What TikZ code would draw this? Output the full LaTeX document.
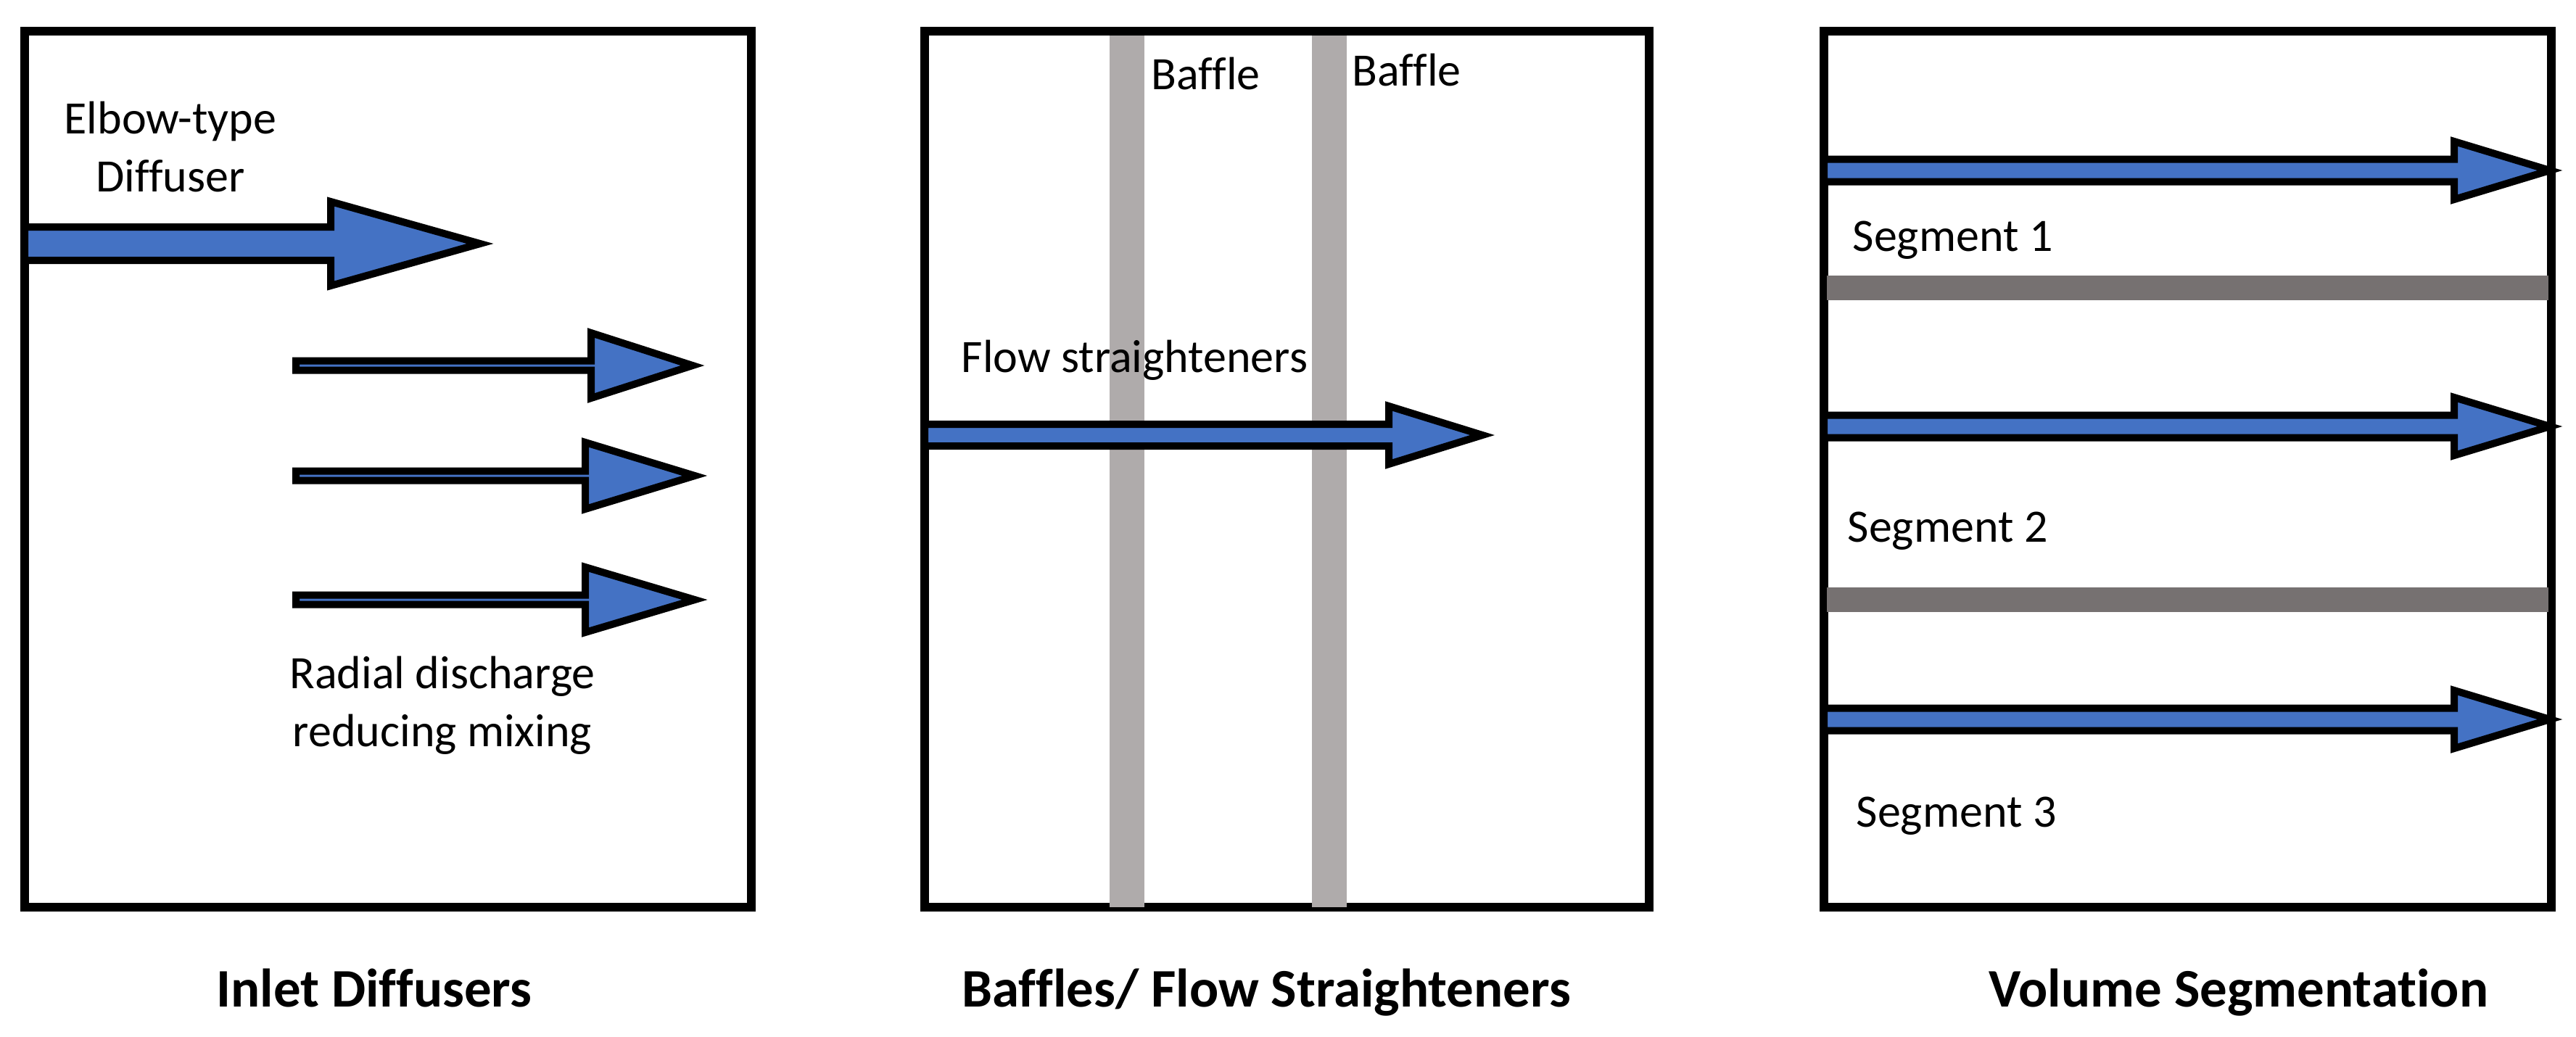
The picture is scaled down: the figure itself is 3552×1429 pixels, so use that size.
\documentclass[tikz,border=0pt]{standalone}
\usepackage{fontspec}
\setmainfont[Ligatures=NoCommon]{Carlito}
\definecolor{flowblue}{HTML}{4472C4}
\definecolor{bafflegray}{HTML}{AFABAB}
\definecolor{bargray}{HTML}{767171}
% x0, yc, head base, tip, shaft half height, head half height
\newcommand\FlowArrow[6]{%
  \draw[flowarrow] (#1,#2-#5) -- (#3,#2-#5) -- (#3,#2-#6) -- (#4,#2)
    -- (#3,#2+#6) -- (#3,#2+#5) -- (#1,#2+#5) -- cycle;}
\begin{document}
\begin{tikzpicture}[x=0.01cm,y=-0.01cm,
  boxframe/.style={draw=black,line width=0.12cm},
  flowarrow/.style={draw=black,fill=flowblue,line width=0.1cm},
  baffle/.style={fill=bafflegray},
  divider/.style={fill=bargray},
  lbl/.style={inner sep=0pt,font=\fontsize{18.2}{22.5}\selectfont},
  title/.style={inner sep=0pt,font=\bfseries\fontsize{21.3}{25}\selectfont}]
\fill[white] (0,0) rectangle (3552,1429);
\useasboundingbox (0,0) rectangle (3552,1429);

% frames
\draw[boxframe] (34,43) rectangle (1036,1251);
\draw[boxframe] (1275,43) rectangle (2274,1251);
\draw[boxframe] (2515,43) rectangle (3518,1251);

% baffles
\fill[baffle] (1530,49) rectangle (1578,1251);
\fill[baffle] (1809,49) rectangle (1857,1251);

% dividers
\fill[divider] (2519,380) rectangle (3514,414);
\fill[divider] (2519,810) rectangle (3514,844);

% arrows, panel 1
\FlowArrow{34}{336}{456}{662}{23}{58}
\FlowArrow{408}{504}{815}{955}{6.5}{45}
\FlowArrow{408}{656}{807}{958}{6.5}{46}
\FlowArrow{408}{827}{807}{958}{6.5}{45}
% panel 2
\FlowArrow{1275}{600}{1915}{2044}{15}{40}
% panel 3
\FlowArrow{2515}{235}{3384}{3516}{15.5}{40}
\FlowArrow{2515}{588}{3384}{3516}{15.5}{40}
\FlowArrow{2515}{992}{3384}{3516}{15.5}{40}

% labels (base anchor = baseline of the last line)
\node[lbl,anchor=base,align=center] (elbow) at (235,264) {Elbow-type\\Diffuser};
\node[lbl,anchor=base,align=center] (radial) at (610,1029) {Radial discharge\\reducing mixing};
\node[lbl,anchor=base west] (baf1) at (1587,123) {Baffle};
\node[lbl,anchor=base west] (baf2) at (1864,118) {Baffle};
\node[lbl,anchor=base west] (flow) at (1325,513) {Flow straighteners};
\node[lbl,anchor=base west] (seg1) at (2554,346) {Segment 1};
\node[lbl,anchor=base west] (seg2) at (2547,747) {Segment 2};
\node[lbl,anchor=base west] (seg3) at (2559,1140) {Segment 3};

% titles
\node[title,anchor=base] (t1) at (516,1388) {Inlet Diffusers};
\node[title,anchor=base] (t2) at (1746,1388) {Baffles/ Flow Straighteners};
\node[title,anchor=base] (t3) at (3087,1388) {Volume Segmentation};
\end{tikzpicture}
\end{document}
